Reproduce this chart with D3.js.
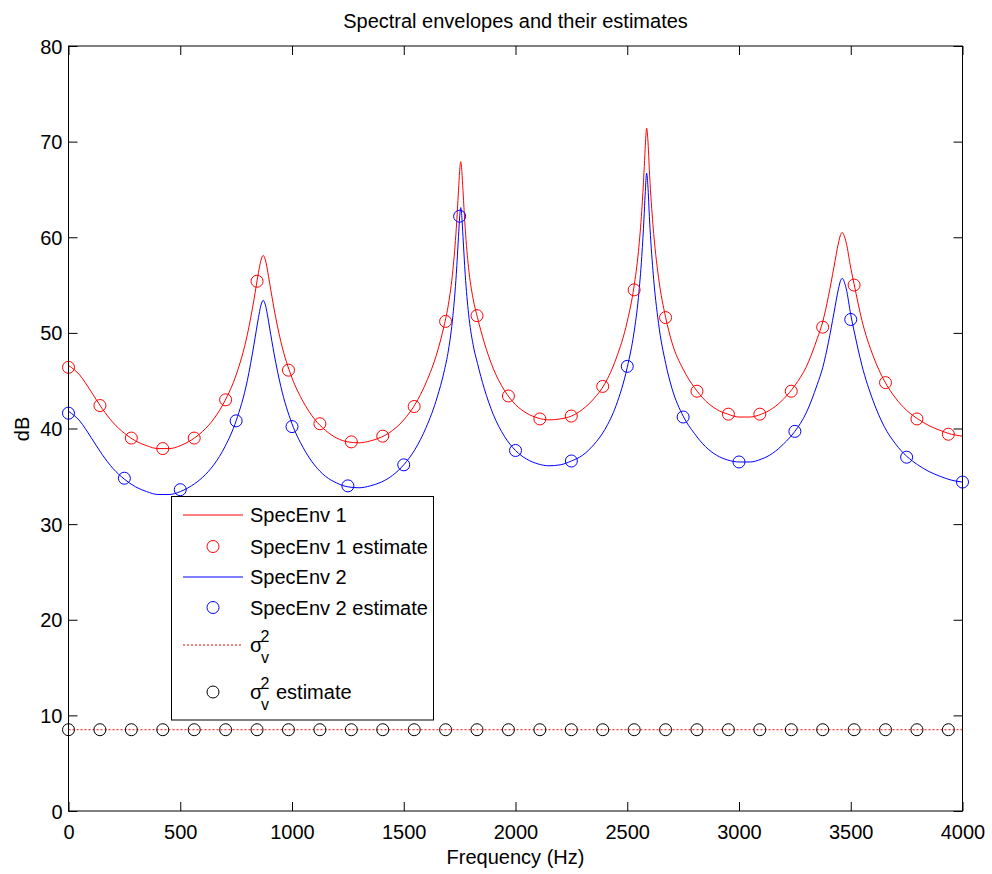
<!DOCTYPE html>
<html>
<head>
<meta charset="utf-8">
<script src="https://cdn.jsdelivr.net/npm/d3@7"></script>
<style>
  html, body { margin: 0; padding: 0; background: #fff; }
  svg { display: block; font-family: "Liberation Sans", Arial, Helvetica, sans-serif; }
</style>
</head>
<body>
<svg id="chart" width="992" height="874"></svg>
<script>
// ---------------- DATA ----------------
const chartTitle = "Spectral envelopes and their estimates";
const xLabel = "Frequency (Hz)";
const yLabel = "dB";
const xTicks = [0, 500, 1000, 1500, 2000, 2500, 3000, 3500, 4000];
const yTicks = [0, 10, 20, 30, 40, 50, 60, 70, 80];

// SpecEnv 1 (red line): frequency (Hz) and level (dB)
const env1Freq = [0, 50, 100, 150, 200, 250, 300, 350, 400, 450, 500, 550, 600, 650, 700, 750, 800, 830, 850, 860, 871, 880, 890, 900, 920, 950, 1000, 1050, 1100, 1150, 1200, 1250, 1300, 1350, 1400, 1450, 1500, 1550, 1600, 1650, 1680, 1700, 1720, 1735, 1745, 1750, 1755, 1760, 1765, 1775, 1790, 1810, 1830, 1860, 1900, 1950, 2000, 2050, 2100, 2150, 2200, 2250, 2300, 2350, 2400, 2450, 2500, 2530, 2550, 2565, 2575, 2580, 2587, 2592, 2600, 2615, 2640, 2672, 2700, 2750, 2800, 2850, 2900, 2950, 3000, 3050, 3100, 3150, 3200, 3250, 3300, 3350, 3375, 3400, 3425, 3445, 3455, 3462, 3470, 3480, 3500, 3515, 3550, 3600, 3650, 3700, 3750, 3800, 3850, 3900, 3950, 4000];
const env1Level = [46.6, 45.6, 43.9, 42.1, 40.6, 39.5, 38.7, 38.2, 37.9, 37.9, 38.2, 38.8, 39.7, 41.0, 42.9, 45.6, 49.8, 53.5, 56.3, 57.5, 58.1, 57.7, 56.6, 55.2, 52.5, 49.1, 45.3, 42.8, 41.0, 39.8, 39.0, 38.6, 38.5, 38.7, 39.1, 39.8, 40.9, 42.5, 44.8, 48.0, 50.7, 53.0, 56.6, 60.9, 64.9, 66.9, 67.9, 66.9, 64.9, 60.9, 56.8, 53.6, 51.6, 49.0, 46.3, 44.0, 42.5, 41.6, 41.1, 40.9, 41.0, 41.3, 42.0, 43.1, 44.7, 47.3, 51.2, 54.8, 58.5, 62.8, 66.8, 69.2, 71.4, 70.3, 66.5, 61.3, 55.8, 51.6, 49.0, 46.2, 44.3, 42.9, 42.0, 41.5, 41.2, 41.2, 41.5, 42.1, 43.1, 44.5, 46.4, 49.4, 51.2, 53.8, 56.9, 59.4, 60.3, 60.5, 60.2, 59.4, 56.8, 55.1, 51.3, 47.6, 45.0, 43.2, 41.9, 41.0, 40.3, 39.8, 39.4, 39.2];

// SpecEnv 2 (blue line)
const env2Freq = env1Freq;
const env2Level = [41.8, 40.8, 39.1, 37.3, 35.8, 34.7, 33.9, 33.4, 33.1, 33.1, 33.4, 34.0, 34.9, 36.2, 38.1, 40.8, 45.0, 48.8, 51.6, 52.8, 53.4, 53.0, 51.9, 50.5, 47.8, 44.4, 40.5, 38.0, 36.2, 35.0, 34.3, 33.9, 33.8, 34.0, 34.4, 35.1, 36.2, 37.8, 40.1, 43.3, 45.9, 48.2, 51.8, 56.1, 60.1, 62.1, 63.1, 62.1, 60.1, 56.1, 52.0, 48.8, 46.8, 44.2, 41.5, 39.2, 37.7, 36.8, 36.3, 36.1, 36.2, 36.6, 37.2, 38.3, 39.9, 42.4, 46.4, 50.0, 53.7, 58.0, 62.0, 64.4, 66.7, 65.5, 61.7, 56.5, 51.0, 46.8, 44.2, 41.3, 39.5, 38.1, 37.2, 36.7, 36.5, 36.5, 36.8, 37.4, 38.4, 39.7, 41.6, 44.6, 46.4, 49.0, 52.1, 54.6, 55.5, 55.7, 55.4, 54.6, 51.9, 50.2, 46.6, 42.9, 40.2, 38.4, 37.1, 36.2, 35.5, 35.0, 34.6, 34.4];

// SpecEnv 1 estimate (red circles)
const est1Freq = [0, 140.6, 281.2, 421.8, 562.4, 703.0, 843.6, 984.2, 1124.8, 1265.4, 1406.0, 1546.6, 1687.2, 1827.8, 1968.4, 2109.0, 2249.6, 2390.2, 2530.8, 2671.4, 2812.0, 2952.6, 3093.2, 3233.8, 3374.4, 3515.0, 3655.6, 3796.2, 3936.8];
const est1Level = [46.4, 42.4, 39.0, 37.9, 39.0, 43.0, 55.4, 46.1, 40.5, 38.6, 39.2, 42.3, 51.2, 51.8, 43.4, 41.0, 41.3, 44.4, 54.5, 51.6, 43.9, 41.5, 41.5, 43.9, 50.6, 55.0, 44.8, 41.0, 39.4];

// SpecEnv 2 estimate (blue circles)
const est2Freq = [0, 250, 500, 750, 1000, 1250, 1500, 1750, 2000, 2250, 2500, 2750, 3000, 3250, 3500, 3750, 4000];
const est2Level = [41.6, 34.8, 33.6, 40.8, 40.2, 34.0, 36.2, 62.2, 37.7, 36.6, 46.5, 41.2, 36.5, 39.7, 51.4, 37.0, 34.4];

// sigma_v^2 (red dotted) and its estimate (black circles)
const noiseFreq = [0, 4000];
const noiseLevel = [8.5, 8.5];
const noiseEstFreq = est1Freq;
const noiseEstLevel = [8.5, 8.5, 8.5, 8.5, 8.5, 8.5, 8.5, 8.5, 8.5, 8.5, 8.5, 8.5, 8.5, 8.5, 8.5, 8.5, 8.5, 8.5, 8.5, 8.5, 8.5, 8.5, 8.5, 8.5, 8.5, 8.5, 8.5, 8.5, 8.5];

const legendLabels = ["SpecEnv 1", "SpecEnv 1 estimate", "SpecEnv 2", "SpecEnv 2 estimate", "σv2", "σv2 estimate"];

// ---------------- DRAW ----------------
(function draw() {
const svg = d3.select("#chart");
const FONT = 20;
const pL = 68.5, pR = 962.5, pT = 46, pB = 811;

const x = d3.scaleLinear().domain([0, 4000]).range([pL, pR]);
const y = d3.scaleLinear().domain([0, 80]).range([pB, pT]);

svg.append("defs").append("clipPath").attr("id", "clip")
  .append("rect").attr("x", pL).attr("y", pT).attr("width", pR - pL).attr("height", pB - pT);

const zip = (a, b) => a.map((v, i) => [v, b[i]]);
const line = d3.line().x(d => x(d[0])).y(d => y(d[1])).curve(d3.curveMonotoneX);
const straight = d3.line().x(d => x(d[0])).y(d => y(d[1]));

const plot = svg.append("g").attr("clip-path", "url(#clip)");

plot.append("path").datum(zip(env1Freq, env1Level))
  .attr("d", line).attr("fill", "none").attr("stroke", "#ff0000").attr("stroke-width", 1);
plot.append("path").datum(zip(env2Freq, env2Level))
  .attr("d", line).attr("fill", "none").attr("stroke", "#0000ff").attr("stroke-width", 1);
plot.append("path").datum(zip(noiseFreq, noiseLevel))
  .attr("d", straight).attr("fill", "none").attr("stroke", "#ff0000").attr("stroke-width", 1)
  .attr("stroke-dasharray", "2,2");

const R = 6;
function circles(fx, fy, color) {
  svg.append("g").selectAll("circle").data(zip(fx, fy)).join("circle")
    .attr("cx", d => x(d[0])).attr("cy", d => y(d[1])).attr("r", R)
    .attr("fill", "none").attr("stroke", color).attr("stroke-width", 1);
}
circles(est1Freq, est1Level, "#ff0000");
circles(est2Freq, est2Level, "#0000ff");
circles(noiseEstFreq, noiseEstLevel, "#000000");

// axes (box with inward ticks on all sides)
const tickLen = 9;
const axG = svg.append("g");
axG.append("rect").attr("x", pL).attr("y", pT).attr("width", pR - pL).attr("height", pB - pT)
  .attr("fill", "none").attr("stroke", "#000").attr("stroke-width", 1);

const xb = axG.append("g").attr("transform", `translate(0,${pB})`)
  .call(d3.axisBottom(x).tickValues(xTicks).tickSize(-tickLen).tickFormat(d3.format("d")));
const xt = axG.append("g").attr("transform", `translate(0,${pT})`)
  .call(d3.axisTop(x).tickValues(xTicks).tickSize(-tickLen).tickFormat(""));
const yl = axG.append("g").attr("transform", `translate(${pL},0)`)
  .call(d3.axisLeft(y).tickValues(yTicks).tickSize(-tickLen).tickFormat(d3.format("d")));
const yr = axG.append("g").attr("transform", `translate(${pR},0)`)
  .call(d3.axisRight(y).tickValues(yTicks).tickSize(-tickLen).tickFormat(""));
[xb, xt, yl, yr].forEach(g => {
  g.select(".domain").remove();
  g.selectAll(".tick line").attr("stroke", "#000").attr("stroke-width", 1);
  g.selectAll("text").attr("font-size", FONT).attr("fill", "#000")
    .attr("font-family", "'Liberation Sans', Arial, sans-serif");
});
xb.selectAll("text").attr("dy", null).attr("y", 28);
yl.selectAll("text").attr("x", -6).attr("dy", "0.35em");

// title and labels
svg.append("text").attr("x", (pL + pR) / 2).attr("y", 28).attr("text-anchor", "middle")
  .attr("font-size", FONT).text(chartTitle);
svg.append("text").attr("x", (pL + pR) / 2).attr("y", 864).attr("text-anchor", "middle")
  .attr("font-size", FONT).text(xLabel);
svg.append("text").attr("transform", "translate(28.5,429) rotate(-90)").attr("text-anchor", "middle")
  .attr("font-size", FONT).text(yLabel);

// legend
const lg = svg.append("g");
lg.append("rect").attr("x", 171.5).attr("y", 496.5).attr("width", 262).attr("height", 223.5)
  .attr("fill", "#fff").attr("stroke", "#000").attr("stroke-width", 1);
const rowsY = [515, 546.5, 577, 607.5, 645, 692];
const lx1 = 183, lx2 = 243, lcx = 213, tx = 250;
const kinds = [
  {type: "line", color: "#ff0000"},
  {type: "circle", color: "#ff0000"},
  {type: "line", color: "#0000ff"},
  {type: "circle", color: "#0000ff"},
  {type: "dotted", color: "#ff0000"},
  {type: "circle", color: "#000000"}
];
kinds.forEach((k, i) => {
  const cy = rowsY[i];
  if (k.type === "circle") {
    lg.append("circle").attr("cx", lcx).attr("cy", cy).attr("r", R)
      .attr("fill", "none").attr("stroke", k.color).attr("stroke-width", 1);
  } else {
    const l = lg.append("line").attr("x1", lx1).attr("x2", lx2).attr("y1", cy).attr("y2", cy)
      .attr("stroke", k.color).attr("stroke-width", 1);
    if (k.type === "dotted") l.attr("stroke-dasharray", "2,2");
  }
  const label = legendLabels[i];
  if (label.startsWith("σv2")) {
    lg.append("text").attr("x", tx).attr("y", cy + 6.5).attr("font-size", FONT).text("σ");
    lg.append("text").attr("x", tx + 10.5).attr("y", cy - 3.5).attr("font-size", 16).text("2");
    lg.append("text").attr("x", tx + 11).attr("y", cy + 17.5).attr("font-size", 16).text("v");
    const rest = label.slice(3);
    if (rest.length) lg.append("text").attr("x", tx + 26).attr("y", cy + 6.5).attr("font-size", FONT)
      .text(rest.trim());
  } else {
    lg.append("text").attr("x", tx).attr("y", cy + 7).attr("font-size", FONT).text(label);
  }
});
})();
</script>
</body>
</html>
